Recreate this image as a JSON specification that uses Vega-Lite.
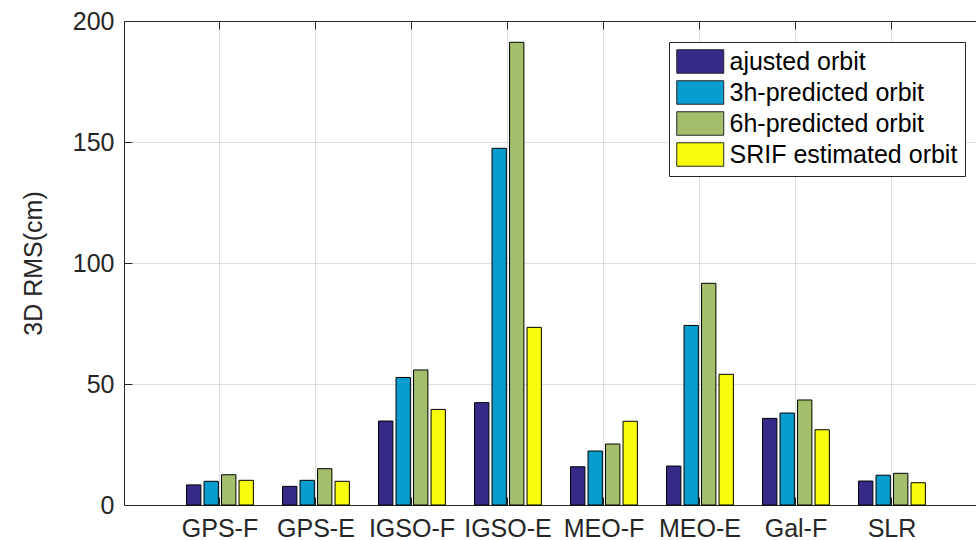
{
  "$schema": "https://vega.github.io/schema/vega-lite/v6.json",
  "width": 852,
  "height": 484,
  "autosize": {"type": "none"},
  "padding": {"left": 124, "top": 21, "right": 0, "bottom": 35},
  "background": "white",
  "config": {
    "view": {"stroke": null},
    "font": "Liberation Sans",
    "axis": {
      "labelFont": "Liberation Sans",
      "titleFont": "Liberation Sans",
      "labelFontSize": 25,
      "titleFontSize": 25,
      "labelColor": "#262626",
      "titleColor": "#262626",
      "titleFontWeight": "normal",
      "domainColor": "#262626",
      "domainWidth": 1,
      "tickColor": "#262626",
      "gridColor": "#262626",
      "gridOpacity": 0.15,
      "gridWidth": 1
    }
  },
  "data": {
    "values": [
      {"site": "GPS-F", "type": "ajusted orbit", "rms": 8.3},
      {"site": "GPS-F", "type": "3h-predicted orbit", "rms": 9.8},
      {"site": "GPS-F", "type": "6h-predicted orbit", "rms": 12.5},
      {"site": "GPS-F", "type": "SRIF estimated orbit", "rms": 10.2},
      {"site": "GPS-E", "type": "ajusted orbit", "rms": 7.7},
      {"site": "GPS-E", "type": "3h-predicted orbit", "rms": 10.2},
      {"site": "GPS-E", "type": "6h-predicted orbit", "rms": 15.0},
      {"site": "GPS-E", "type": "SRIF estimated orbit", "rms": 9.8},
      {"site": "IGSO-F", "type": "ajusted orbit", "rms": 34.7},
      {"site": "IGSO-F", "type": "3h-predicted orbit", "rms": 52.7},
      {"site": "IGSO-F", "type": "6h-predicted orbit", "rms": 55.8},
      {"site": "IGSO-F", "type": "SRIF estimated orbit", "rms": 39.5},
      {"site": "IGSO-E", "type": "ajusted orbit", "rms": 42.3},
      {"site": "IGSO-E", "type": "3h-predicted orbit", "rms": 147.4},
      {"site": "IGSO-E", "type": "6h-predicted orbit", "rms": 191.2},
      {"site": "IGSO-E", "type": "SRIF estimated orbit", "rms": 73.4},
      {"site": "MEO-F", "type": "ajusted orbit", "rms": 15.8},
      {"site": "MEO-F", "type": "3h-predicted orbit", "rms": 22.3},
      {"site": "MEO-F", "type": "6h-predicted orbit", "rms": 25.2},
      {"site": "MEO-F", "type": "SRIF estimated orbit", "rms": 34.6},
      {"site": "MEO-E", "type": "ajusted orbit", "rms": 16.1},
      {"site": "MEO-E", "type": "3h-predicted orbit", "rms": 74.2},
      {"site": "MEO-E", "type": "6h-predicted orbit", "rms": 91.6},
      {"site": "MEO-E", "type": "SRIF estimated orbit", "rms": 54.0},
      {"site": "Gal-F", "type": "ajusted orbit", "rms": 35.8},
      {"site": "Gal-F", "type": "3h-predicted orbit", "rms": 38.0},
      {"site": "Gal-F", "type": "6h-predicted orbit", "rms": 43.4},
      {"site": "Gal-F", "type": "SRIF estimated orbit", "rms": 31.1},
      {"site": "SLR", "type": "ajusted orbit", "rms": 9.9},
      {"site": "SLR", "type": "3h-predicted orbit", "rms": 12.3},
      {"site": "SLR", "type": "6h-predicted orbit", "rms": 13.1},
      {"site": "SLR", "type": "SRIF estimated orbit", "rms": 9.2}
    ]
  },
  "resolve": {"axis": {"x": "independent"}},
  "layer": [
    {
      "mark": {"type": "bar", "stroke": "black", "strokeWidth": 1},
      "encoding": {
        "x": {
          "field": "site",
          "type": "nominal",
          "sort": null,
          "scale": {"paddingInner": 0, "paddingOuter": 0.4375, "align": 0.571},
          "axis": {
            "orient": "bottom",
            "title": null,
            "labelAngle": 0,
            "tickSize": -8,
            "labelPadding": 19,
            "grid": true,
            "domain": true
          }
        },
        "xOffset": {
          "field": "type",
          "type": "nominal",
          "sort": ["ajusted orbit", "3h-predicted orbit", "6h-predicted orbit", "SRIF estimated orbit"],
          "scale": {"paddingInner": 0.18, "paddingOuter": 0.833}
        },
        "y": {
          "field": "rms",
          "type": "quantitative",
          "scale": {"domain": [0, 200], "nice": false},
          "axis": {
            "title": "3D RMS(cm)",
            "values": [0, 50, 100, 150, 200],
            "tickSize": -8,
            "labelPadding": 18,
            "titlePadding": 26,
            "grid": true
          }
        },
        "color": {
          "field": "type",
          "type": "nominal",
          "sort": ["ajusted orbit", "3h-predicted orbit", "6h-predicted orbit", "SRIF estimated orbit"],
          "scale": {
            "domain": ["ajusted orbit", "3h-predicted orbit", "6h-predicted orbit", "SRIF estimated orbit"],
            "range": ["#352a87", "#079dcf", "#a5be6b", "#f9fb0e"]
          },
          "legend": {
            "title": null,
            "orient": "none",
            "legendX": 545,
            "legendY": 21,
            "fillColor": "white",
            "strokeColor": "#262626",
            "padding": 7,
            "symbolType": "M-1,-1H3V1H-1Z",
            "symbolSize": 552,
            "symbolStrokeColor": "#262626",
            "symbolStrokeWidth": 1,
            "symbolOpacity": 1,
            "labelFont": "Liberation Sans",
            "labelFontSize": 25,
            "labelColor": "black",
            "labelOffset": 28.5,
            "rowPadding": 2,
            "labelLimit": 400
          }
        }
      }
    },
    {
      "mark": {"type": "tick", "opacity": 0},
      "encoding": {
        "x": {
          "field": "site",
          "type": "nominal",
          "sort": null,
          "axis": {
            "orient": "top",
            "title": null,
            "labels": false,
            "tickSize": -8,
            "grid": false,
            "domain": true
          }
        },
        "y": {"field": "rms", "type": "quantitative"}
      }
    }
  ]
}
